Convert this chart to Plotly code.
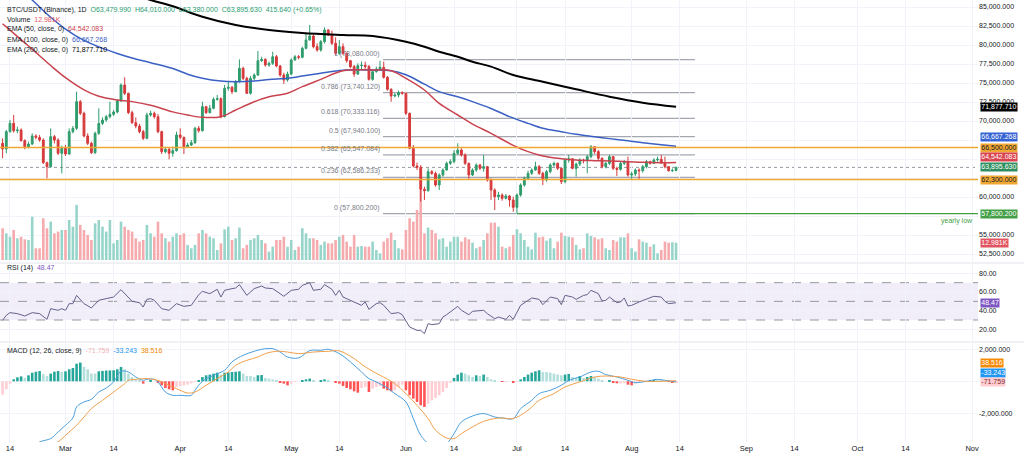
import pandas as pd
import plotly.graph_objects as go

# ---- data ----
base_date = pd.Timestamp("2025-02-14")   # day 0 for all day offsets below
first_candle_day = -2                    # first visible candle = Feb 12
first_open = 67060

# daily candles, Feb 12 .. Aug 13 (rows of 10)
closes = [
    66320, 68600, 69690, 68730, 68820, 67410, 66620, 66970, 68030, 67850,
    67500, 64520, 63990, 67940, 67500, 65750, 66400, 65660, 68600, 69040,
    72540, 71010, 68030, 67060, 65830, 68380, 69690, 70130, 70570, 70880,
    71180, 72630, 74740, 73640, 71100, 69780, 69340, 68600, 67720, 70790,
    71010, 70570, 68600, 65970, 66270, 65750, 66100, 68160, 67850, 66620,
    66840, 67150, 69040, 68730, 71890, 71100, 71670, 72850, 72940, 70570,
    74300, 74430, 73860, 75180, 76930, 75610, 73640, 75610, 76050, 77940,
    78110, 77370, 77590, 78460, 77240, 76050, 75390, 76180, 78030, 78460,
    78380, 79560, 80660, 81180, 79780, 79340, 80440, 81970, 81320, 80220,
    78900, 79780, 78900, 77940, 77150, 76180, 77280, 77330, 77150, 75480,
    76490, 76840, 77060, 75750, 74170, 73290, 73420, 73730, 73640, 71010,
    66400, 64080, 63900, 61010, 60830, 63330, 63110, 61580, 62890, 63550,
    64430, 64650, 65750, 66180, 65530, 64430, 62890, 63550, 64210, 63770,
    63990, 62240, 60920, 60040, 60260, 59820, 60130, 59610, 58640, 60260,
    61580, 62460, 63110, 63550, 63990, 63110, 62240, 63330, 64210, 64430,
    63770, 62020, 64870, 65040, 63770, 64340, 64870, 64780, 65310, 66620,
    65970, 65090, 63990, 64430, 65310, 63770, 63640, 64430, 64650, 62890,
    63030, 63550, 63460, 63990, 64650, 64430, 64870, 64960, 64520, 63990,
    63460, 63479.99, 63895.63,
]
highs = [
    67720, 68820, 70130, 70790, 69250, 69030, 67590, 67280, 68380, 68250,
    68160, 67720, 64650, 69030, 68160, 67720, 66760, 66840, 69030, 69340,
    73860, 72760, 71230, 68380, 67280, 68600, 71670, 70480, 70790, 72540,
    71450, 72850, 74960, 75750, 73730, 71360, 70480, 69600, 68820, 71100,
    71360, 71230, 70920, 68730, 66620, 66530, 66620, 68600, 69030, 67940,
    67150, 67500, 69250, 69340, 72540, 71980, 72110, 73110, 73420, 73110,
    74740, 75180, 74610, 75390, 78110, 77150, 75830, 75920, 76270, 79210,
    78460, 78250, 77810, 79120, 78680, 77370, 76360, 76490, 78250, 78680,
    78680, 79780, 81540, 82630, 81360, 80220, 80660, 82320, 82060, 81890,
    81010, 80660, 80220, 79030, 78030, 77370, 77590, 77810, 77810, 77370,
    76710, 77150, 77940, 77810, 75920, 74300, 73640, 74000, 73900, 73730,
    71100, 66840, 64520, 64200, 61360, 63770, 63550, 63330, 63110, 63770,
    64650, 64960, 66180, 67060, 66400, 65750, 64520, 63770, 64430, 64340,
    65530, 64080, 62460, 61140, 60700, 60480, 60390, 60260, 60040, 60480,
    61800, 62680, 63460, 63770, 64650, 64210, 63330, 63550, 64430, 64650,
    64520, 63900, 65090, 65530, 65090, 64520, 65090, 65040, 65530, 66840,
    66620, 66180, 65220, 64650, 65530, 65400, 63990, 64650, 64870, 65310,
    63330, 63770, 63770, 64210, 64870, 64780, 65090, 65310, 65530, 65310,
    64080, 63770, 64010,
]
lows = [
    65090, 65750, 68470, 68470, 68380, 67280, 66270, 66400, 66840, 67590,
    67280, 64340, 62460, 63900, 67060, 65530, 63110, 65400, 65530, 68380,
    68820, 70790, 67850, 66840, 65660, 65660, 68160, 69470, 69910, 70350,
    70660, 71010, 72540, 73420, 70920, 69600, 69040, 68380, 67500, 67590,
    70570, 70310, 68380, 65660, 65750, 64960, 65310, 65970, 67590, 65660,
    66530, 66710, 66970, 68470, 68600, 70920, 71010, 71540, 72670, 70350,
    70480, 73990, 73550, 73770, 75050, 75390, 73550, 73460, 75390, 75920,
    77760, 77150, 77150, 77370, 77060, 75830, 74870, 75180, 76010, 77940,
    78120, 78250, 79430, 80570, 79560, 79120, 79120, 80220, 81180, 80000,
    78680, 78680, 78680, 77670, 76930, 75830, 76050, 76710, 76840, 75310,
    75310, 76360, 76710, 75570, 73990, 72540, 73110, 73110, 73470, 70790,
    66270, 63900, 63550, 59390, 59610, 60700, 62900, 61360, 60920, 62680,
    63460, 64210, 64430, 65530, 65310, 64210, 62240, 62770, 63330, 63550,
    63330, 62020, 59610, 58290, 59610, 59520, 59690, 58730, 58070, 57800.2,
    60040, 61360, 62330, 62900, 63460, 62900, 61580, 62020, 63110, 63990,
    63550, 61710, 61800, 64520, 63640, 62680, 64080, 64430, 63110, 65090,
    65660, 64870, 63770, 63770, 64210, 63550, 62770, 63460, 64210, 62680,
    62240, 62770, 62240, 63200, 63770, 64250, 64340, 64650, 64340, 63770,
    63330, 63290, 63380,
]
volume_k = [
    23.8, 20.0, 17.5, 22.5, 16.3, 17.5, 15.5, 15.0, 32.5, 8.8,
    8.8, 31.3, 23.8, 28.8, 20.0, 21.3, 22.5, 22.5, 30.0, 25.0,
    41.3, 26.3, 22.5, 18.8, 15.0, 27.5, 30.0, 25.0, 21.3, 30.0,
    12.5, 15.0, 28.8, 25.0, 22.5, 21.3, 16.3, 13.8, 15.0, 26.3,
    20.0, 17.5, 28.8, 20.0, 16.3, 13.8, 17.5, 20.0, 18.8, 20.0,
    11.3, 8.8, 11.3, 20.0, 22.5, 20.0, 17.5, 16.3, 7.5, 12.5,
    23.0, 25.0, 15.0, 16.3, 24.3, 8.8, 11.3, 15.0, 16.3, 18.8,
    15.0, 12.5, 6.3, 10.0, 15.0, 15.0, 17.5, 10.0, 15.0, 7.5,
    10.0, 23.8, 20.0, 16.3, 16.3, 15.0, 11.3, 13.8, 12.5, 12.5,
    15.0, 17.5, 18.8, 13.8, 10.0, 18.8, 10.0, 10.5, 10.0, 10.0,
    13.8, 7.5, 5.0, 13.8, 16.3, 20.5, 15.0, 8.8, 8.0, 22.5,
    31.3, 28.8, 37.5, 52.5, 20.0, 24.3, 22.5, 20.0, 15.5, 16.3,
    10.0, 13.8, 17.5, 17.5, 13.8, 17.0, 15.5, 13.0, 8.8, 10.0,
    15.0, 20.0, 28.0, 28.0, 25.0, 10.0, 8.8, 10.0, 18.8, 23.0,
    20.0, 15.0, 10.0, 8.0, 20.5, 17.0, 17.5, 14.5, 16.3, 8.8,
    13.8, 20.5, 18.0, 17.5, 17.0, 11.3, 8.0, 8.8, 20.0, 18.0,
    17.0, 15.5, 16.3, 8.8, 7.5, 15.0, 13.8, 17.0, 17.0, 20.0,
    8.8, 6.3, 15.5, 13.8, 13.0, 10.0, 11.8, 5.0, 7.5, 13.8,
    13.0, 13.3, 12.981,
]

# moving averages, sampled (day offset, value)
ema50_days = [-2, 3, 6, 11, 15, 20, 24, 29, 33, 38, 44, 48, 52, 57, 61, 66, 70, 75, 79, 84,
              90, 98, 103, 107, 112, 116, 121, 125, 130, 136, 140, 144, 149, 153, 158, 162, 167, 171, 176, 180]
ema50_vals = [82800, 80700, 79450, 77300, 75700, 74100, 73250, 72770, 72550, 72080,
              71200, 70790, 70480, 70570, 71450, 72540, 73200, 73640, 74520, 75480,
              76600, 76710, 76620, 75610, 74080, 72320, 70790, 69600, 68380, 66800,
              65970, 65400, 65040, 64870, 64780, 64740, 64650, 64560, 64520, 64542.083]
ema100_days = [-2, 6, 11, 15, 20, 24, 29, 33, 38, 44, 48, 52, 57, 61, 66, 70, 75, 79, 84, 90,
               98, 103, 107, 112, 116, 121, 125, 130, 135, 140, 144, 149, 153, 158, 162, 167, 171, 176, 180]
ema100_vals = [89500, 85920, 83650, 82100, 80600, 79750, 78880, 78280, 77670, 76900,
               76160, 75620, 75250, 75180, 75260, 75470, 75620, 75910, 76280, 76680,
               76710, 76620, 76080, 74850, 73870, 73180, 72550, 71650, 70570, 69690,
               69040, 68590, 68250, 67930, 67680, 67400, 67150, 66880, 66667.268]
ema200_days = [-2, 18, 38, 44, 52, 61, 70, 79, 90, 98, 107, 112, 116, 121, 125, 130, 136, 144, 153, 162, 171, 180]
ema200_vals = [92600, 89000, 85920, 85100, 83720, 82630, 81970, 81580, 81320, 81180,
               80430, 79780, 79120, 78460, 77800, 77150, 76050, 75170, 74170, 73200, 72410, 71877.71]

# RSI (14), sampled
rsi_days = [-2, -1, 0, 2, 4, 6, 8, 10, 11, 13, 14, 15, 16, 17, 18, 20, 22, 24, 26, 28,
            30, 31, 33, 35, 36, 37, 38, 39, 40, 41, 43, 45, 47, 49, 51, 52, 54, 55, 56, 57,
            58, 60, 61, 62, 64, 66, 68, 69, 71, 73, 74, 76, 78, 79, 81, 82, 84, 85, 87, 88,
            89, 90, 93, 95, 96, 97, 99, 100, 101, 103, 105, 106, 108, 110, 111, 112, 113, 114, 116, 117,
            118, 121, 122, 124, 125, 127, 128, 129, 131, 132, 134, 135, 136, 138, 140, 141, 143, 144, 146, 148,
            149, 150, 152, 153, 155, 156, 157, 159, 160, 161, 162, 164, 165, 166, 167, 168, 170, 172, 173, 174,
            176, 177, 178, 180]
rsi_vals = [29.6, 35.0, 37.9, 36.8, 34.3, 37.9, 36.8, 30.7, 42.1, 40.4, 42.1, 40.4, 47.5, 47.5, 56.4, 47.5, 42.9, 51.1, 52.9, 54.6,
            62.5, 58.2, 50.0, 48.6, 43.9, 52.1, 52.9, 51.1, 47.0, 42.1, 40.4, 47.5, 44.6, 45.7, 57.1, 60.7, 58.2, 60.7, 62.9, 54.6,
            61.8, 63.6, 64.3, 67.9, 56.4, 63.6, 66.4, 64.3, 63.6, 58.2, 55.4, 61.8, 62.9, 67.1, 70.0, 61.8, 62.9, 67.9, 62.9, 56.4,
            61.8, 54.6, 49.3, 45.7, 49.3, 41.4, 47.5, 48.6, 45.7, 36.8, 37.9, 35.7, 22.5, 18.9, 18.9, 15.4, 26.1, 25.0, 26.1, 33.2,
            35.7, 44.6, 40.4, 35.7, 39.3, 40.4, 40.4, 36.8, 31.4, 33.2, 30.7, 35.0, 30.7, 45.7, 51.1, 53.6, 52.1, 46.4, 54.6, 52.9,
            46.4, 56.4, 54.6, 52.1, 56.4, 57.1, 61.8, 58.2, 50.4, 51.1, 54.6, 48.6, 49.3, 53.6, 45.0, 45.7, 49.3, 52.1, 53.6, 55.4,
            54.6, 50.0, 47.5, 48.47]

# MACD (12, 26, close, 9)
macd_days = [-2, 0, 4, 8, 11, 13, 15, 17, 18, 20, 22, 24, 26, 28, 30, 32, 34, 36, 37, 39,
             40, 42, 44, 46, 49, 50, 52, 55, 58, 60, 63, 66, 68, 71, 73, 75, 78, 81, 84, 86,
             89, 92, 95, 97, 99, 102, 104, 107, 109, 111, 113, 115, 118, 120, 122, 125, 128, 131, 133, 136,
             138, 141, 143, 146, 149, 151, 154, 157, 159, 161, 164, 167, 169, 172, 175, 177, 180]
macd_vals = [-5800, -5000, -4400, -3790, -3580, -3170, -2750, -2290, -1600, -1290,
             -1125, -670, -420, -40, 625, 580, 270, 60, 125, 125,
             -40, -670, -875, -875, -875, -560, 0, 375, 690, 1210,
             1625, 1875, 2000, 2040, 1830, 1520, 1460, 1920, 1940, 2000,
             1730, 1210, 580, 170, -40, -420, -770, -1290, -2330, -3375,
             -3900, -4250, -3900, -3270, -2540, -2170, -2020, -2230, -2290, -2330,
             -1710, -1190, -770, -560, -250, 60, 270, 580, 625, 420,
             270, 60, -85, 0, 125, 60, -33.243]
signal_days = [-2, 0, 4, 8, 10, 13, 15, 18, 20, 22, 25, 28, 31, 32, 34, 37, 40, 42, 45, 48,
               50, 53, 56, 59, 61, 64, 67, 69, 72, 75, 78, 82, 86, 89, 93, 96, 100, 104, 107, 110,
               113, 115, 118, 120, 122, 125, 128, 131, 133, 136, 140, 143, 147, 150, 154, 158, 161, 165, 168, 172,
               176, 180]
signal_vals = [-4970, -4850, -4600, -4400, -4150, -3790, -3375, -2750, -2230, -1710,
               -1190, -670, -145, 60, 125, 170, 60, -145, -460, -730,
               -670, -250, 170, 580, 1000, 1310, 1520, 1730, 1875, 1830,
               1730, 1830, 1875, 1900, 1420, 900, 375, -145, -770, -1500,
               -2330, -3060, -3540, -3580, -3270, -2850, -2500, -2330, -2290, -2330,
               -1810, -1190, -770, -350, -40, 270, 330, 270, 125, 0,
               0, 38.516]
macd_hist = [
    -830, -500, -150, 125, 250, 310, 210, 375, 540, 600,
    640, 440, 330, 480, 600, 640, 580, 625, 750, 830,
    1100, 1170, 900, 750, 480, 480, 625, 650, 670, 680,
    690, 750, 900, 750, 480, 270, 125, 60, -145, 0,
    40, 0, -85, -250, -420, -500, -560, -350, -290, -250,
    -210, -125, -40, 60, 270, 375, 420, 480, 540, 420,
    540, 560, 580, 600, 625, 480, 330, 330, 270, 375,
    390, 210, 170, 125, 60, -85, -145, -250, -145, -40,
    0, 60, 125, 170, 60, 0, 40, 125, 40, 0,
    -85, -145, -290, -420, -500, -625, -710, -420, -350, -670,
    -460, -350, -290, -460, -560, -625, -560, -350, -210, -560,
    -875, -1080, -1290, -1500, -1600, -1400, -1190, -1040, -875, -670,
    -420, -85, 210, 420, 540, 480, 375, 270, 375, 330,
    420, 270, 125, 40, 0, -40, -40, 0, -85, -40,
    125, 270, 420, 540, 625, 690, 580, 580, 540, 480,
    420, 375, 420, 460, 270, 210, 330, 210, 270, 330,
    270, 170, 60, 0, 40, -85, -125, -125, -85, -210,
    -250, -145, -85, -40, 0, 40, 60, 60, 40, 0,
    -40, -85, -71.759,
]

# drawn levels
fib_ratios = [1, 0.786, 0.618, 0.5, 0.382, 0.236, 0]
fib_prices = [78080.000, 73740.120, 70333.116, 67940.100, 65547.084, 62586.233, 57800.200]
fib_start_day, fib_end_day = 100.8, 185.1
support_levels = [66500.0, 62300.0]
yearly_low = 57800.200
yearly_low_day = 137
last_close = 63895.630

price_ticks = [52500, 55000, 57500, 60000, 62500, 65000, 67500, 70000,
               72500, 75000, 77500, 80000, 82500, 85000]
hidden_price_ticks = [57500, 62500, 65000, 67500]   # covered by the value tags

tick_dates = ["2025-02-14", "2025-03-01", "2025-03-14", "2025-04-01", "2025-04-14", "2025-05-01",
              "2025-05-14", "2025-06-01", "2025-06-14", "2025-07-01", "2025-07-14", "2025-08-01",
              "2025-08-14", "2025-09-01", "2025-09-14", "2025-10-01", "2025-10-14", "2025-11-01"]
tick_text = ["14", "Mar", "14", "Apr", "14", "May", "14", "Jun", "14", "Jul", "14", "Aug",
             "14", "Sep", "14", "Oct", "14", "Nov"]

# ---- styling ----
FONT = "Liberation Sans, Arial, sans-serif"
TEXT = "#131722"
GRID = "#f0f3fa"
UP, DOWN = "#2f9c6c", "#d6393b"
UP_VOL, DOWN_VOL = "#97d5cb", "#f5abad"
EMA50_C, EMA100_C, EMA200_C = "#c9434e", "#3b60c4", "#000000"
ORANGE = "#f0a733"
DAY_MS = 86400000

# pane layout in pixels (plot area is 442 px high, 978 px wide)
PH, PW = 442, 978
main_lo = 1 - 262 / PH
rsi_lo, rsi_hi = 1 - 341 / PH, 1 - 264 / PH
macd_hi = 1 - 343 / PH


def to_dates(days):
    return [base_date + pd.Timedelta(days=d) for d in days]


candle_dates = to_dates(range(first_candle_day, first_candle_day + len(closes)))
opens = [first_open] + closes[:-1]

vol_colors = [UP_VOL if c >= o else DOWN_VOL for o, c in zip(opens, closes)]
hist_colors = []
prev = None
for h in macd_hist:
    if h >= 0:
        hist_colors.append("#26a69a" if prev is None or h > prev else "#b2dfdb")
    else:
        hist_colors.append("#ff5252" if prev is not None and h < prev else "#ffcdd2")
    prev = h

fig = go.Figure()

# volume on the hidden base axis, price overlaid on top
fig.add_trace(go.Bar(x=candle_dates, y=volume_k, marker=dict(color=vol_colors, line=dict(width=0)),
                     width=0.7 * DAY_MS, xaxis="x", yaxis="y", hoverinfo="skip"))
fig.add_trace(go.Candlestick(x=candle_dates, open=opens, high=highs, low=lows, close=closes,
                             increasing=dict(line=dict(color=UP, width=1), fillcolor=UP),
                             decreasing=dict(line=dict(color=DOWN, width=1), fillcolor=DOWN),
                             whiskerwidth=0, xaxis="x", yaxis="y2", hoverinfo="skip"))
for days, vals, color, w in [(ema200_days, ema200_vals, EMA200_C, 2),
                             (ema100_days, ema100_vals, EMA100_C, 1.5),
                             (ema50_days, ema50_vals, EMA50_C, 1.5)]:
    fig.add_trace(go.Scatter(x=to_dates(days), y=vals, mode="lines",
                             line=dict(color=color, width=w, shape="spline"),
                             xaxis="x", yaxis="y2", hoverinfo="skip"))

fig.add_trace(go.Scatter(x=to_dates(rsi_days), y=rsi_vals, mode="lines",
                         line=dict(color="#65608a", width=1), xaxis="x", yaxis="y3", hoverinfo="skip"))

fig.add_trace(go.Bar(x=candle_dates, y=macd_hist, marker=dict(color=hist_colors, line=dict(width=0)),
                     width=0.7 * DAY_MS, xaxis="x", yaxis="y4", hoverinfo="skip"))
fig.add_trace(go.Scatter(x=to_dates(macd_days), y=macd_vals, mode="lines",
                         line=dict(color="#4a9fde", width=1, shape="spline"), xaxis="x", yaxis="y4", hoverinfo="skip"))
fig.add_trace(go.Scatter(x=to_dates(signal_days), y=signal_vals, mode="lines",
                         line=dict(color="#f0a04b", width=1, shape="spline"), xaxis="x", yaxis="y4", hoverinfo="skip"))

# ---- shapes ----
shapes = []
fib_x0 = base_date + pd.Timedelta(days=fib_start_day)
fib_x1 = base_date + pd.Timedelta(days=fib_end_day)
for p in fib_prices:
    shapes.append(dict(type="line", xref="x", yref="y2", x0=fib_x0, x1=fib_x1, y0=p, y1=p,
                       line=dict(color="#a4a7b0", width=1.3), layer="below"))
for p in support_levels:
    shapes.append(dict(type="line", xref="paper", yref="y2", x0=0, x1=1, y0=p, y1=p,
                       line=dict(color=ORANGE, width=1.5)))
shapes.append(dict(type="line", xref="paper", yref="y2", x0=0, x1=1, y0=last_close, y1=last_close,
                   line=dict(color="#9598a1", width=1, dash="dot"), layer="below"))
x_end = base_date + pd.Timedelta(days=261.6)
shapes.append(dict(type="line", xref="x", yref="y2",
                   x0=base_date + pd.Timedelta(days=yearly_low_day), x1=x_end,
                   y0=yearly_low, y1=yearly_low, line=dict(color="#43a047", width=1.3)))
# RSI band and levels
shapes.append(dict(type="rect", xref="paper", yref="y3", x0=0, x1=1, y0=30, y1=70,
                   fillcolor="rgba(126,87,194,0.10)", line=dict(width=0), layer="below"))
for lvl in [70, 50, 30]:
    shapes.append(dict(type="line", xref="paper", yref="y3", x0=0, x1=1, y0=lvl, y1=lvl,
                       line=dict(color="#9598a1", width=1, dash="dash"), layer="below"))
# pane separators
for ypx in [263, 342]:
    shapes.append(dict(type="line", xref="paper", yref="paper", x0=0, x1=1 + 46 / PW,
                       y0=1 - ypx / PH, y1=1 - ypx / PH, line=dict(color="#e0e3eb", width=1)))

# ---- annotations ----
ann = []


def top_label(ypx, text):
    ann.append(dict(xref="paper", yref="paper", x=5 / PW, y=1 - ypx / PH, xanchor="left",
                    yanchor="middle", text=text, showarrow=False, font=dict(size=7, color=TEXT)))


def span(text, color):
    return f"<span style='color:{color}'>{text}</span>"


sp = "\u00a0\u00a0"
top_label(9.5, "BTC/USDT (Binance), 1D" + sp + span(
    "O63,479.990  H64,010.000  L63,380.000  C63,895.630  415.640 (+0.65%)".replace("  ", sp), "#2a9d70"))
top_label(19.5, "Volume" + sp + span(f"{volume_k[-1]:.3f}K", "#e05560"))
top_label(29.5, "EMA (50, close, 0)" + sp + span(f"{ema50_vals[-1]:,.3f}", EMA50_C))
top_label(39.5, "EMA (100, close, 0)" + sp + span(f"{ema100_vals[-1]:,.3f}", EMA100_C))
top_label(49.5, "EMA (200, close, 0)" + sp + span(f"{ema200_vals[-1]:,.3f}", EMA200_C))
top_label(268, "RSI (14)" + sp + span(f"{rsi_vals[-1]:.2f}", "#7e57c2"))
top_label(351, "MACD (12, 26, close, 9)" + sp + span(f"{macd_hist[-1]:,.3f}", "#f3b2b5") + sp
          + span(f"{macd_vals[-1]:,.3f}", "#2196f3") + sp + span(f"{signal_vals[-1]:,.3f}", "#f08a00"))

for r, p in zip(fib_ratios, fib_prices):
    ann.append(dict(xref="x", yref="y2", x=fib_x0, y=p, xanchor="right", yanchor="middle", yshift=6,
                    xshift=-1, text=f"{r:g} ({p:,.3f})", showarrow=False, font=dict(size=7, color="#787b86")))
ann.append(dict(xref="paper", yref="y2", x=975 / PW, y=yearly_low, xanchor="right", yanchor="middle",
                yshift=-7, text="yearly low", showarrow=False, font=dict(size=7, color="#43a047")))


def tag(text, y, yref, bg, fg="white", yshift=0):
    ann.append(dict(xref="paper", x=1, xanchor="left", xshift=2, yref=yref, y=y, yanchor="middle",
                    yshift=yshift, text=text, showarrow=False, bgcolor=bg, borderpad=0.3,
                    font=dict(size=7, color=fg)))


tag(f"{ema200_vals[-1]:,.3f}", ema200_vals[-1], "y2", "#000000")
tag(f"{ema100_vals[-1]:,.3f}", ema100_vals[-1], "y2", "#3563d3", yshift=9)
tag(f"{support_levels[0]:,.3f}", support_levels[0], "y2", ORANGE, fg=TEXT)
tag(f"{ema50_vals[-1]:,.3f}", ema50_vals[-1], "y2", "#d9434e", yshift=5)
tag(f"{last_close:,.3f}", last_close, "y2", "#2f8f5f")
tag(f"{support_levels[1]:,.3f}", support_levels[1], "y2", ORANGE, fg=TEXT)
tag(f"{yearly_low:,.3f}", yearly_low, "y2", "#43a047")
tag(f"{volume_k[-1]:.3f}K", volume_k[-1], "y", "#e05560")
tag(f"{rsi_vals[-1]:.2f}", rsi_vals[-1], "y3", "#7e57c2")
tag(f"{signal_vals[-1]:,.3f}", signal_vals[-1], "y4", "#f58a07", yshift=18)
tag(f"{macd_vals[-1]:,.3f}", macd_vals[-1], "y4", "#2196f3", yshift=9)
tag(f"{macd_hist[-1]:,.3f}", macd_hist[-1], "y4", "#ffcdd2", fg="#7a2a2a")

axis_common = dict(side="right", showgrid=True, gridcolor=GRID, zeroline=False, showline=False,
                   ticks="", tickfont=dict(size=7, color=TEXT), anchor="x", fixedrange=True)

fig.update_layout(
    width=1024, height=459,
    margin=dict(l=0, r=46, t=0, b=17),
    paper_bgcolor="white", plot_bgcolor="white",
    showlegend=False, hovermode=False,
    font=dict(family=FONT, size=7, color=TEXT),
    shapes=shapes, annotations=ann,
    xaxis=dict(type="date", anchor="y4",
               range=[base_date + pd.Timedelta(days=-2.7), x_end],
               tickmode="array", tickvals=tick_dates, ticktext=tick_text,
               showgrid=True, gridcolor=GRID, zeroline=False, showline=False, ticks="",
               tickfont=dict(size=7.5, color=TEXT), rangeslider=dict(visible=False)),
    yaxis=dict(domain=[main_lo, 1], range=[-1.5, 195], visible=False, fixedrange=True),
    yaxis2=dict(axis_common, overlaying="y", range=[51447, 85921],
                tickvals=price_ticks,
                ticktext=["" if t in hidden_price_ticks else f"{t:,.3f}" for t in price_ticks]),
    yaxis3=dict(axis_common, domain=[rsi_lo, rsi_hi], range=[7.5, 90],
                tickvals=[20, 40, 60, 80], tickformat=".2f"),
    yaxis4=dict(axis_common, domain=[0, macd_hi], range=[-3794, 2394],
                tickvals=[-2000, 0, 2000], ticktext=["-2,000.000", "", "2,000.000"]),
)

# page body has a default 8px margin; drop it so the figure fills the window
fig.write_html("out.html", config={"displayModeBar": False},
               post_script="document.body.style.margin='0px';")
